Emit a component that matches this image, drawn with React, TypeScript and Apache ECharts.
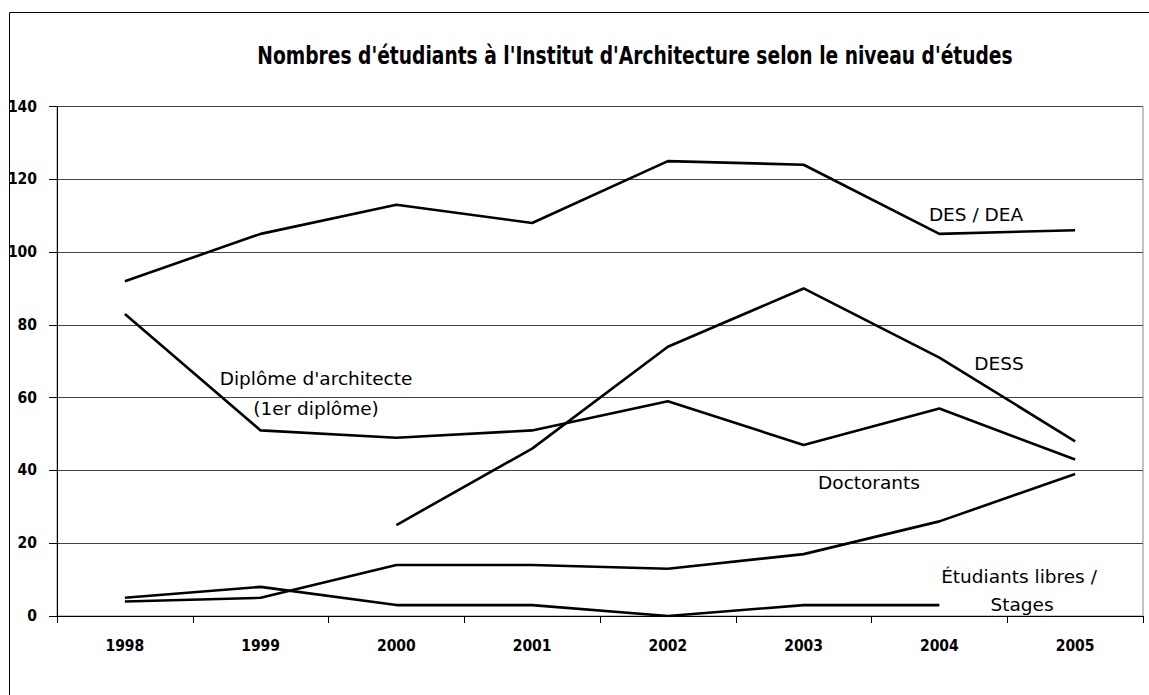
import React, { useEffect, useRef } from "react";
import * as echarts from "echarts";

const years = ["1998", "1999", "2000", "2001", "2002", "2003", "2004", "2005"];
const desDea = [92, 105, 113, 108, 125, 124, 105, 106];
const diplome = [83, 51, 49, 51, 59, 47, 57, 43];
const dess = [null, null, 25, 46, 74, 90, 71, 48];
const doctorants = [4, 5, 14, 14, 13, 17, 26, 39];
const libres = [5, 8, 3, 3, 0, 3, 3, null];

const titleText = "Nombres d'étudiants à l'Institut d'Architecture selon le niveau d'études";
const labelFont = "'DejaVu Sans', sans-serif";
const condFont = "'DejaVu Sans Condensed', 'Liberation Sans Narrow', 'DejaVu Sans', sans-serif";

export default function App() {
  const ref = useRef<HTMLDivElement>(null);
  useEffect(() => {
    const chart = echarts.init(ref.current!, null, { renderer: "svg" });
    const mk = (name: string, data: (number | null)[]) => ({
      name,
      type: "line",
      data,
      symbol: "none",
      connectNulls: false,
      lineStyle: { color: "#000", width: 2.6 },
    });
    const txt = (text: string, x: number, y: number) => ({
      type: "text",
      x,
      y,
      style: {
        text,
        fill: "#000",
        font: `18.5px ${labelFont}`,
        textAlign: "center",
        textVerticalAlign: "middle",
      },
    });
    chart.setOption({
      animation: false,
      backgroundColor: "#fff",
      grid: { left: 57, top: 106.5, right: 6, bottom: 79, show: true, borderColor: "#888", borderWidth: 1 },
      xAxis: {
        type: "category",
        data: years,
        boundaryGap: true,
        axisLine: { lineStyle: { color: "#000", width: 1 } },
        axisTick: { show: true, length: 7, inside: false, lineStyle: { color: "#000" } },
        axisLabel: { color: "#000", fontFamily: condFont, fontWeight: "bold", fontSize: 15.5, margin: 22 },
        splitLine: { show: false },
      },
      yAxis: {
        type: "value",
        min: 0,
        max: 140,
        interval: 20,
        axisLine: { show: true, lineStyle: { color: "#000", width: 1 } },
        axisTick: { show: true, length: 8, lineStyle: { color: "#000" } },
        axisLabel: { color: "#000", fontFamily: condFont, fontWeight: "bold", fontSize: 15.5, margin: 20 },
        splitLine: { show: true, lineStyle: { color: "#444", width: 1 } },
      },
      series: [
        mk("DES / DEA", desDea),
        mk("Diplôme d'architecte", diplome),
        mk("DESS", dess),
        mk("Doctorants", doctorants),
        mk("Étudiants libres / Stages", libres),
      ],
      graphic: [
        {
          type: "rect",
          shape: { x: 9.5, y: 12.5, width: 1200, height: 800 },
          style: { fill: "none", stroke: "#000", lineWidth: 1 },
          silent: true,
        },
        {
          type: "text",
          x: 635,
          y: 55,
          scaleX: 0.865,
          style: {
            text: titleText,
            fill: "#000",
            font: `bold 24px ${condFont}`,
            textAlign: "center",
            textVerticalAlign: "middle",
          },
        },
        txt("DES / DEA", 976, 214),
        txt("DESS", 999, 363),
        txt("Diplôme d'architecte", 316, 378),
        txt("(1er diplôme)", 316, 408),
        txt("Doctorants", 869, 482),
        txt("Étudiants libres /", 1019, 576),
        txt("Stages", 1022, 604),
      ],
    });
    return () => chart.dispose();
  }, []);
  return (
    <div
      ref={ref}
      style={{ position: "fixed", left: 0, top: 0, width: 1149, height: 695 }}
    />
  );
}
